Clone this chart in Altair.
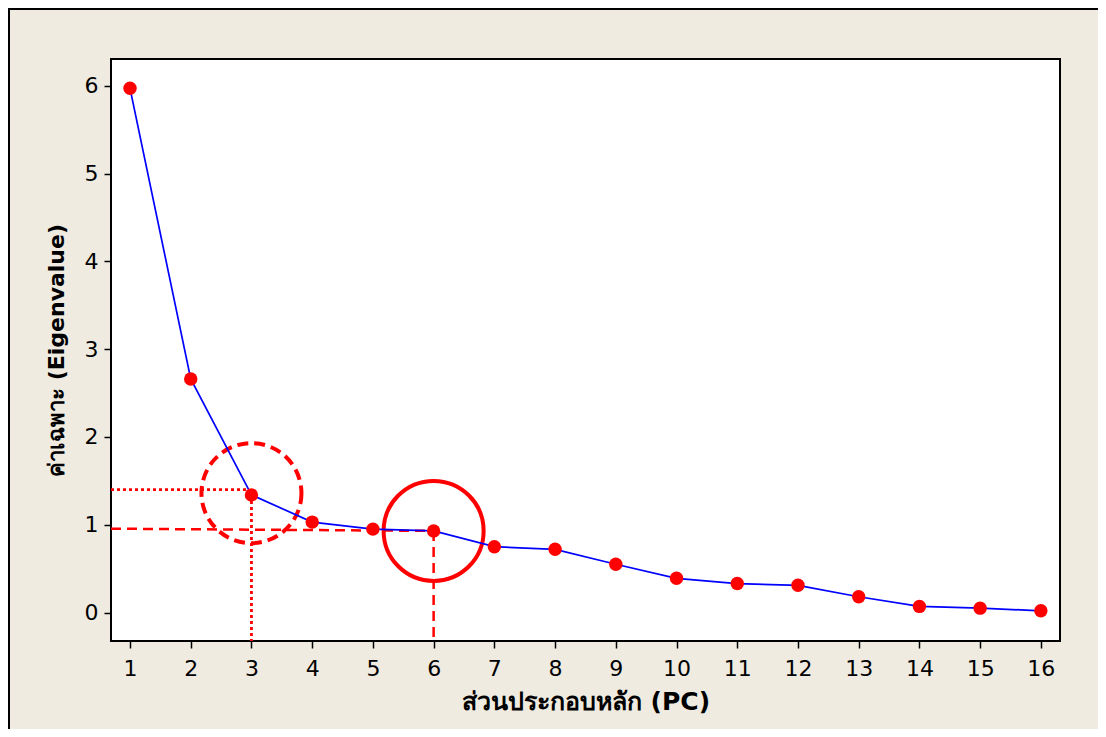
import altair as alt
import pandas as pd

# Data
pc = list(range(1, 17))
eigenvalue = [5.97, 2.66, 1.34, 1.03, 0.95, 0.93, 0.75, 0.72, 0.55, 0.39, 0.33, 0.31, 0.18, 0.07, 0.05, 0.02]

x_domain = [0.687, 16.315]
y_domain = [-0.324, 6.304]

# Annotation guide lines (x, y, x2, y2)
dotted_h = {"x": [x_domain[0]], "y": [1.40], "x2": [2.93], "y2": [1.40]}
dotted_v = {"x": [3], "y": [1.34], "x2": [3], "y2": [y_domain[0]]}
dashed_h = {"x": [x_domain[0]], "y": [0.955], "x2": [6], "y2": [0.93]}
dashed_v = {"x": [6], "y": [0.93], "x2": [6], "y2": [y_domain[0]]}
circle_dashed = {"x": [3.0], "y": [1.36]}
circle_solid = {"x": [6.0], "y": [0.93]}

x_title = "ส่วนประกอบหลัก (PC)"
y_title = "ค่าเฉพาะ (Eigenvalue)"

FONT = "DejaVu Sans"
RED = "#FF0000"

df = pd.DataFrame({"pc": pc, "ev": eigenvalue})

xs = alt.Scale(domain=x_domain, nice=False, zero=False)
ys = alt.Scale(domain=y_domain, nice=False, zero=False)

x_enc = alt.X("pc:Q", scale=xs,
              axis=alt.Axis(values=pc, title=x_title, format="d",
                            titleFontSize=25))
y_enc = alt.Y("ev:Q", scale=ys,
              axis=alt.Axis(values=[0, 1, 2, 3, 4, 5, 6], title=y_title, format="d",
                            titleFontSize=22))


def seg(d, dash, width):
    return alt.Chart(pd.DataFrame(d)).mark_rule(
        color=RED, strokeDash=dash, strokeWidth=width
    ).encode(
        x=alt.X("x:Q", scale=xs), y=alt.Y("y:Q", scale=ys),
        x2="x2:Q", y2="y2:Q"
    )


frame = alt.Chart(pd.DataFrame({"a": [0]})).mark_rect(
    fill=None, stroke="black", strokeWidth=2
).encode(
    x=alt.value(-102), x2=alt.value(1040), y=alt.value(-50), y2=alt.value(700)
)

circ_d = alt.Chart(pd.DataFrame(circle_dashed)).mark_point(
    shape="circle", size=10000, filled=False, color=RED, strokeWidth=4,
    strokeDash=[11, 6], opacity=1
).encode(x=alt.X("x:Q", scale=xs), y=alt.Y("y:Q", scale=ys))

circ_s = alt.Chart(pd.DataFrame(circle_solid)).mark_point(
    shape="circle", size=10000, filled=False, color=RED, strokeWidth=4, opacity=1
).encode(x=alt.X("x:Q", scale=xs), y=alt.Y("y:Q", scale=ys))

line = alt.Chart(df).mark_line(color="#0000FF", strokeWidth=1.7).encode(x=x_enc, y=y_enc)
pts = alt.Chart(df).mark_circle(color=RED, size=180, opacity=1).encode(x=x_enc, y=y_enc)

chart = alt.layer(
    frame,
    seg(dotted_h, [3, 3], 2.8),
    seg(dotted_v, [3, 3], 2.8),
    seg(dashed_h, [10, 6], 2.5),
    seg(dashed_v, [10, 6], 2.5),
    circ_d, circ_s, line, pts
).properties(
    width=949, height=582,
    padding={"left": 103, "top": 51, "right": 38, "bottom": 88},
    autosize=alt.AutoSizeParams(type="none"),
    background="#EFEBE1",
).configure_view(
    fill="white", stroke="black", strokeWidth=2
).configure_axis(
    grid=False, domain=False,
    tickColor="black", tickSize=7, tickWidth=1.5,
    labelFont=FONT, labelFontSize=22, labelColor="black",
    titleFont=FONT, titleFontWeight="bold", titleColor="black",
).configure_axisX(
    labelPadding=10, titlePadding=10
).configure_axisY(
    labelPadding=6, titlePadding=16
)

chart.save("out.html", embed_options={"renderer": "svg", "actions": False})
